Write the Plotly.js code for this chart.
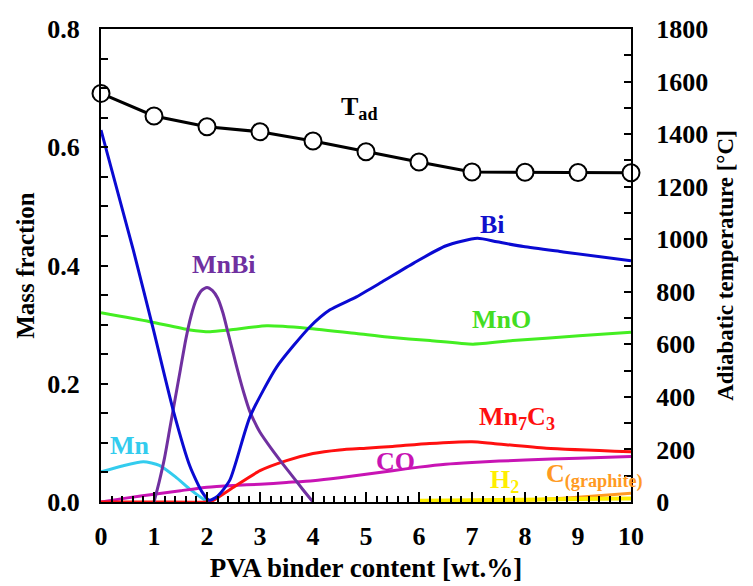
<!DOCTYPE html>
<html>
<head>
<meta charset="utf-8">
<script src="https://cdn.plot.ly/plotly-3.0.1.min.js"></script>
<style>html,body{margin:0;padding:0;background:#fff;}#chart{width:753px;height:586px;}</style>
</head>
<body>
<div id="chart"></div>
<script>
// PVA binder content [wt.%]
const tadX = [0,1,2,3,4,5,6,7,8,9,10];
const tadT = [1555,1469,1428,1409,1374,1333,1294,1256,1255,1254,1253];

const biX = [0,0.61,0.99,1.36,1.68,1.9,2.04,2.2,2.43,2.81,3.32,3.94,4.32,4.82,5.3,5.9,6.5,7.1,7.47,7.97,8.72,10];
const biY = [0.629,0.426,0.291,0.156,0.060,0.018,0.003,0.010,0.037,0.144,0.229,0.296,0.325,0.347,0.372,0.404,0.433,0.446,0.440,0.432,0.423,0.408];

const mnbiX = [1.0,1.1,1.2,1.3,1.4,1.5,1.6,1.7,1.8,1.9,2.0,2.1,2.2,2.3,2.4,2.5,2.6,2.7,2.8,2.9,3.0,3.2,3.4,3.6,3.8,4.0];
const mnbiY = [0.0,0.035,0.075,0.125,0.175,0.225,0.275,0.315,0.343,0.358,0.363,0.358,0.345,0.320,0.285,0.250,0.215,0.183,0.155,0.135,0.118,0.092,0.068,0.045,0.022,0.0];

const mnoX = [0,0.92,1.68,2.06,2.43,3.13,3.88,4.82,5.4,6.21,7.02,7.77,9.02,10];
const mnoY = [0.320,0.305,0.291,0.288,0.291,0.298,0.294,0.285,0.279,0.273,0.267,0.273,0.281,0.287];

const mnX = [0,0.4,0.8,1.1,1.4,1.7,1.95,2.05];
const mnY = [0.051,0.061,0.068,0.062,0.043,0.020,0.004,0.0];

const mn7c3X = [0,1,2.0,2.1,2.5,3.0,3.5,4.0,4.5,5.0,5.5,6.2,7.0,7.4,8.4,10];
const mn7c3Y = [0,0,0,0.002,0.025,0.053,0.070,0.082,0.088,0.091,0.094,0.099,0.102,0.099,0.091,0.085];

const coX = [0,0.5,1,1.5,2,2.5,3,3.5,4,4.5,5,5.5,6,6.5,7,8,9,10];
const coY = [0,0.007,0.013,0.019,0.025,0.028,0.030,0.033,0.036,0.041,0.047,0.053,0.059,0.064,0.067,0.071,0.074,0.077];

const h2X = [6,7,8,9,10];
const h2Y = [0.002,0.003,0.004,0.005,0.006];

const cX = [6,7,8,9,10];
const cY = [0.0,0.001,0.003,0.008,0.015];

const F = 'Liberation Serif';

function curve(x, y, color, w) {
  return {x: x, y: y, type: 'scatter', mode: 'lines', yaxis: 'y',
    line: {color: color, width: w || 3, shape: 'spline', smoothing: 0.6},
    hoverinfo: 'skip', showlegend: false};
}

const data = [
  curve(mnoX, mnoY, '#44EE22'),
  curve(mnX, mnY, '#33CCEE'),
  curve(coX, coY, '#C814B4'),
  curve(mn7c3X, mn7c3Y, '#FF1010'),
  curve(mnbiX, mnbiY, '#7030A0'),
  curve(biX, biY, '#0A0AD2'),
  curve(cX, cY, '#FF9A22', 3),
  curve(h2X, h2Y, '#FFEE00', 4),
  {x: tadX, y: tadT, type: 'scatter', mode: 'lines+markers', yaxis: 'y2',
   line: {color: '#000', width: 3},
   marker: {symbol: 'circle', size: 17, color: '#fff', line: {color: '#000', width: 2}},
   cliponaxis: false, hoverinfo: 'skip', showlegend: false}
];

function ann(text, x, y, color, size, xanchor) {
  return {text: text, x: x, y: y, xref: 'x', yref: 'y', showarrow: false,
    xanchor: xanchor || 'center',
    font: {family: F, size: size || 26, color: color, weight: 700}};
}

const tickF = {family: F, size: 26, color: '#000', weight: 700};

const layout = {
  width: 753, height: 586,
  margin: {l: 101, r: 122, t: 29, b: 84, pad: 0},
  paper_bgcolor: '#fff', plot_bgcolor: '#fff',
  xaxis: {
    range: [0, 10], dtick: 1, tick0: 0,
    showgrid: false, zeroline: false,
    showline: true, linecolor: '#000', linewidth: 2, mirror: true,
    ticks: 'inside', ticklen: 10, tickwidth: 2, tickcolor: '#000',
    minor: {dtick: 0.2, ticks: 'inside', ticklen: 6, tickwidth: 2, tickcolor: '#000', showgrid: false},
    tickfont: tickF,
    ticklabelstandoff: 10,
    title: {text: 'PVA binder content [wt.%]', font: {family: F, size: 27, color: '#000', weight: 700}, standoff: 8}
  },
  yaxis: {
    range: [0, 0.8], dtick: 0.2, tick0: 0, tickformat: '.1f',
    showgrid: false, zeroline: false,
    showline: true, linecolor: '#000', linewidth: 2,
    ticks: 'inside', ticklen: 7, tickwidth: 2, tickcolor: '#000',
    minor: {dtick: 0.05, ticks: 'inside', ticklen: 7, tickwidth: 2, tickcolor: '#000', showgrid: false},
    tickfont: tickF,
    ticklabelstandoff: 14,
    title: {text: 'Mass fraction', font: {family: F, size: 25, color: '#000', weight: 700}, standoff: 6}
  },
  yaxis2: {
    range: [0, 1800], dtick: 200, tick0: 0,
    overlaying: 'y', side: 'right',
    showgrid: false, zeroline: false,
    showline: true, linecolor: '#000', linewidth: 2,
    ticks: 'inside', ticklen: 7, tickwidth: 2, tickcolor: '#000',
    minor: {dtick: 100, ticks: 'inside', ticklen: 7, tickwidth: 2, tickcolor: '#000', showgrid: false},
    tickfont: tickF,
    ticklabelstandoff: 18,
    title: {text: 'Adiabatic temperature [°C]', font: {family: F, size: 23, color: '#000', weight: 700}, standoff: 10}
  },
  annotations: [
    ann('T<sub>ad</sub>', 4.87, 0.666, '#000'),
    ann('Bi', 7.38, 0.470, '#1010CC'),
    ann('MnBi', 2.32, 0.402, '#7030A0'),
    ann('MnO', 7.56, 0.309, '#44DD22'),
    ann('Mn', 0.55, 0.095, '#33CCEE'),
    ann('Mn<sub>7</sub>C<sub>3</sub>', 7.85, 0.142, '#FF1010'),
    ann('CO', 5.55, 0.069, '#C814B4'),
    ann('H<sub>2</sub>', 7.62, 0.036, '#FFEE00'),
    ann('C<sub>(graphite)</sub>', 8.36, 0.045, '#FF9A22', 26, 'left')
  ]
};

Plotly.newPlot('chart', data, layout, {staticPlot: true, displayModeBar: false});
</script>
</body>
</html>
